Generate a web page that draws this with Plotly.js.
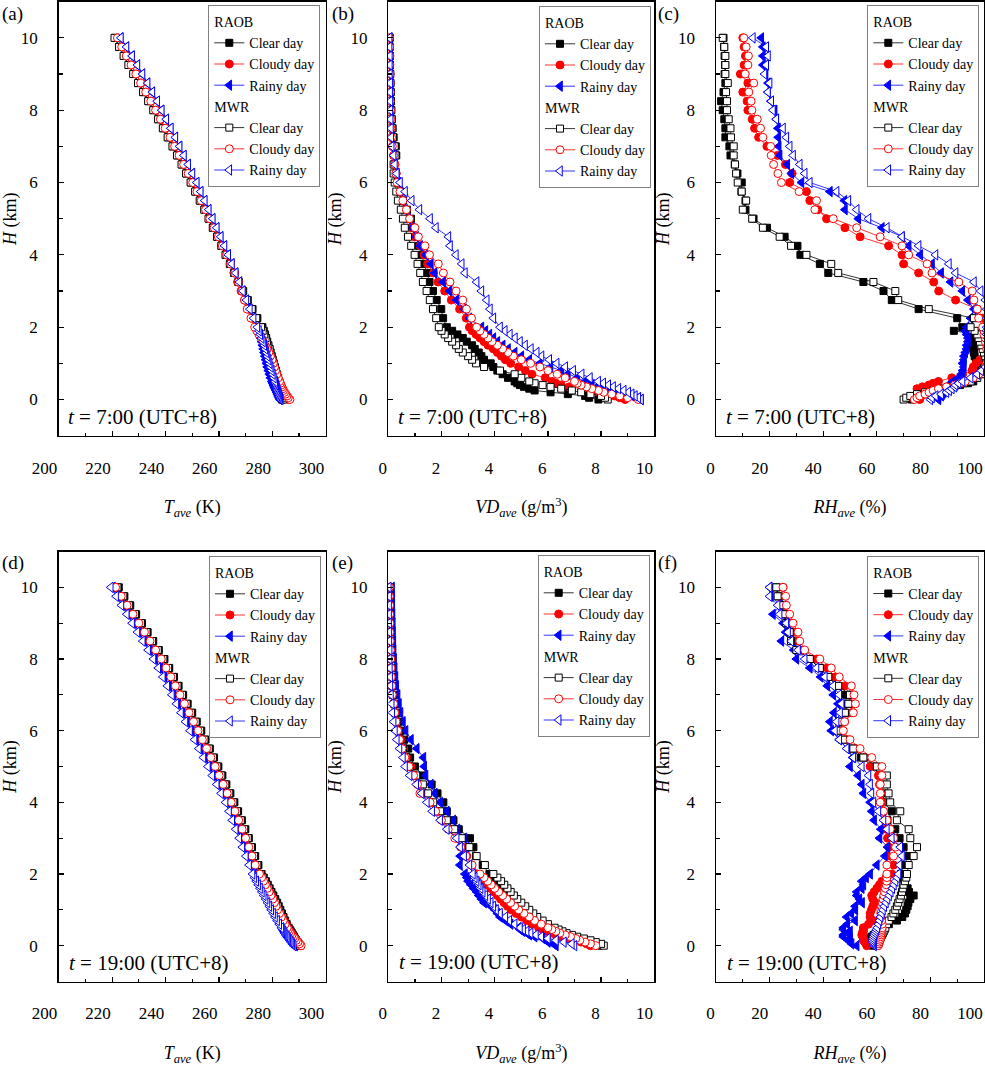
<!DOCTYPE html>
<html><head><meta charset="utf-8">
<script src="https://cdn.plot.ly/plotly-3.0.1.min.js"></script>
<style>html,body{margin:0;padding:0;background:#fff}#chart{width:985px;height:1069px}</style>
</head><body><div id="chart"></div>
<script>
// Heights (km)
const H = [0,0.05,0.1,0.15,0.2,0.25,0.3,0.35,0.4,0.45,0.5,
 0.6,0.7,0.8,0.9,1.0,1.1,1.2,1.3,1.4,1.5,1.6,1.7,1.8,1.9,2.0,
 2.25,2.5,2.75,3.0,3.25,3.5,3.75,4.0,4.25,4.5,4.75,5.0,5.25,5.5,5.75,6.0,6.25,6.5,6.75,7.0,7.25,7.5,7.75,8.0,8.25,8.5,8.75,9.0,9.25,9.5,9.75,10.0];

// (a) T, 7:00
const tA_raob_clear = [283.6,283.5,283.3,283.1,282.9,282.7,282.5,282.4,282.2,282.0,281.9,
 281.5,281.2,280.9,280.6,280.3,279.9,279.6,279.2,278.9,278.5,278.1,277.7,277.3,276.8,276.3,
 274.4,272.6,270.8,269.1,267.4,265.8,264.2,262.6,261.0,259.4,257.8,256.3,254.7,253.0,251.3,249.6,247.9,246.2,244.5,242.8,241.0,239.2,237.4,235.6,233.7,231.8,229.9,228.1,226.3,224.5,222.8,221.2];
const tA_raob_cloudy = [286.0,285.6,285.2,284.8,284.4,284.0,283.7,283.4,283.1,282.8,282.5,
 282.0,281.5,281.0,280.5,280.0,279.5,279.0,278.5,277.9,277.3,276.7,276.0,275.3,274.6,273.9,
 272.4,270.9,269.6,268.3,267.0,265.6,264.2,262.8,261.3,259.8,258.3,256.7,255.1,253.5,251.9,250.3,248.6,246.9,245.2,243.5,241.8,240.0,238.2,236.4,234.6,232.7,230.9,229.0,227.2,225.4,223.7,222.1];
const tA_raob_rainy = [282.8,282.5,282.2,281.9,281.6,281.3,281.0,280.7,280.4,280.1,279.8,
 279.3,278.9,278.5,278.1,277.8,277.5,277.2,276.9,276.6,276.3,276.0,275.6,275.2,274.8,274.3,
 272.9,271.5,270.2,268.9,267.6,266.2,264.8,263.4,262.0,260.6,259.1,257.6,256.1,254.6,253.1,251.6,250.0,248.4,246.8,245.2,243.6,241.9,240.2,238.5,236.8,235.0,233.2,231.3,229.4,227.4,225.3,223.2];
const tA_mwr_clear = [284.0,283.9,283.8,283.7,283.6,283.4,283.3,283.1,283.0,282.8,282.6,
 282.2,281.8,281.4,281.0,280.6,280.2,279.8,279.4,279.0,278.5,278.0,277.5,277.0,276.4,275.8,
 274.0,272.3,270.6,268.9,267.3,265.7,264.1,262.5,260.9,259.3,257.7,256.1,254.5,252.8,251.1,249.4,247.7,246.0,244.3,242.6,240.8,239.0,237.2,235.4,233.5,231.6,229.7,227.9,226.1,224.3,222.6,220.9];
const tA_mwr_cloudy = [286.6,286.0,285.5,285.0,284.6,284.2,283.9,283.6,283.3,283.0,282.7,
 282.2,281.7,281.2,280.8,280.4,279.9,279.3,278.7,278.0,277.3,276.6,275.8,275.0,274.2,273.4,
 272.0,270.6,269.6,268.6,267.3,265.9,264.4,262.9,261.3,259.8,258.2,256.6,255.0,253.4,251.8,250.2,248.5,246.8,245.1,243.4,241.7,239.9,238.1,236.3,234.5,232.6,230.7,228.9,227.1,225.3,223.6,222.0];
const tA_mwr_rainy = [283.2,283.0,282.7,282.5,282.3,282.1,281.9,281.7,281.5,281.3,281.1,
 280.6,280.2,279.8,279.4,279.0,278.6,278.2,277.8,277.4,277.0,276.5,276.0,275.5,275.0,274.4,
 273.0,271.6,270.3,269.0,267.7,266.3,264.9,263.5,262.1,260.7,259.2,257.7,256.2,254.7,253.2,251.7,250.1,248.5,246.9,245.3,243.7,242.0,240.3,238.6,236.9,235.1,233.3,231.4,229.5,227.5,225.4,223.3];

// (b) VD, 7:00
const vB_raob_clear = [7.9,7.55,7.4,6.75,6.1,5.5,5.3,5.1,4.95,4.85,4.75,
 4.5,4.3,4.1,3.95,3.85,3.6,3.5,3.4,3.25,3.15,2.95,2.8,2.6,2.4,2.2,
 2.06,1.99,1.82,1.68,1.55,1.45,1.35,1.25,1.15,1.05,0.95,0.85,0.7,0.55,0.45,0.35,0.28,0.22,0.3,0.28,0.2,0.16,0.13,0.11,0.1,0.09,0.08,0.07,0.06,0.06,0.05,0.05];
const vB_raob_cloudy = [8.9,8.7,8.5,8.2,7.9,7.6,7.3,6.8,6.5,6.3,6.15,
 5.9,5.4,5.15,4.9,4.6,4.4,4.25,4.1,3.95,3.75,3.6,3.45,3.3,3.15,3.05,
 2.93,2.68,2.37,2.12,1.87,1.7,1.48,1.35,1.2,1.0,0.85,0.72,0.6,0.5,0.42,0.35,0.3,0.25,0.2,0.16,0.13,0.11,0.1,0.09,0.08,0.08,0.07,0.07,0.06,0.06,0.05,0.05];
const vB_raob_rainy = [9.5,9.4,9.15,9.0,8.6,8.3,8.05,7.85,7.65,7.5,7.4,
 7.1,6.75,6.5,6.1,5.7,5.3,5.0,4.75,4.5,4.3,4.1,3.95,3.8,3.65,3.5,
 3.05,2.85,2.56,2.3,2.06,1.74,1.6,1.4,1.2,1.05,0.9,0.75,0.63,0.55,0.45,0.38,0.32,0.26,0.22,0.18,0.15,0.13,0.12,0.11,0.1,0.09,0.09,0.08,0.08,0.07,0.07,0.06];
const vB_mwr_clear = [8.25,8.15,8.0,7.6,7.25,6.9,6.5,6.1,5.8,5.5,5.3,
 5.0,4.75,4.2,3.6,3.3,3.15,3.0,2.8,2.65,2.55,2.4,2.25,2.12,2.0,1.9,
 1.8,1.68,1.56,1.44,1.3,1.2,1.1,0.99,0.86,0.74,0.62,0.55,0.47,0.36,0.3,0.24,0.2,0.2,0.27,0.24,0.18,0.15,0.13,0.11,0.1,0.09,0.08,0.07,0.06,0.06,0.05,0.05];
const vB_mwr_cloudy = [9.4,9.0,8.7,8.4,8.1,7.9,7.65,7.45,7.25,7.1,7.0,
 6.65,6.35,6.0,5.7,5.35,5.0,4.7,4.5,4.3,4.1,3.9,3.75,3.6,3.45,3.32,
 3.13,2.94,2.8,2.55,2.32,2.07,1.88,1.55,1.38,1.13,1.0,0.8,0.68,0.55,0.44,0.33,0.28,0.24,0.2,0.15,0.12,0.1,0.09,0.08,0.07,0.07,0.06,0.06,0.05,0.05,0.05,0.04];
const vB_mwr_rainy = [9.5,9.4,9.27,9.15,9.02,8.85,8.65,8.45,8.27,8.08,7.89,
 7.58,7.27,6.95,6.65,6.33,6.05,5.76,5.58,5.36,5.14,4.95,4.76,4.57,4.38,4.2,
 3.95,3.82,3.7,3.5,3.32,2.88,2.76,2.54,2.32,2.26,1.79,1.57,1.17,0.88,0.63,0.44,0.32,0.25,0.2,0.13,0.11,0.1,0.09,0.08,0.08,0.07,0.07,0.06,0.06,0.06,0.05,0.05];

// (c) RH, 7:00
const rC_raob_clear = [73,74,75.5,77,79,82,85,88,91,94,96,
 97,98,99,98,97.5,97,96.5,96.25,96,96,95.6,96,97,88.75,91.9,
 90,75.6,65.6,62.5,55,41.9,38.75,31.5,30.4,25.6,19,14,11,11,9.5,9.6,8,7,5.4,5,3.5,3.5,3.1,2.5,1.9,2.8,3.5,3.2,3.4,3.2,3.0,2.8];
const rC_raob_cloudy = [76,75.5,76.5,78,77,76,75,77,79.4,81,83,
 88,92,95.5,96,97,98.5,100,100.5,99.5,99,98.5,98,98.5,99.5,100,
 99.5,97.5,89.4,83.1,81.25,75.6,70,69.4,64.4,53.75,48.1,41.25,38,35,33.75,27.5,28.4,25.9,22.9,19,15.9,14.4,13.5,11.9,11.6,10,11.9,9.1,10.5,11,10.5,10];
const rC_raob_rainy = [83,83,84,84.5,85,85.5,86,86.5,86.9,87.5,88.5,
 90.5,91.5,92,92.5,92,92.5,92.5,93,93.5,93.5,94,94,93.5,93,93.5,
 95,96.25,94,91.9,87.5,84,80.6,76.25,71.9,69.4,61.9,53.1,48.1,47.9,42.5,31.9,28.1,26.6,23.75,23.4,23.2,23.1,22.5,21.9,20.5,19.4,19.4,18.5,17.5,17.5,17.5,16.9];
const rC_mwr_clear = [70,71,72.5,75,78,81,84,87,90,92.5,95,
 97.5,99,100,100.5,101,101,100.5,100,99.5,99,98.5,98,97.5,96.5,95,
 96.25,79.4,68,66.9,58.75,45.6,43,33.75,28,23.75,17.5,13.5,10,11.25,9.6,8.1,7.5,7.1,6.6,6.6,5.6,5.4,4.75,4.1,4.1,3.75,4.4,3.5,3.5,3.5,3.1,2.5];
const rC_mwr_cloudy = [74,75,76,78,79.5,81,83,86,89,91,93,
 96,98,99.5,100.5,101,101.5,101.5,101.5,101,101,100.5,100.5,100,100,99.5,
 98,97.5,96.25,95.6,90.6,80.6,78.75,71.9,69.4,61.25,52.5,43.75,36.9,37.5,31,24.4,23.1,21.5,20.6,20.4,17.5,16.6,15.4,13.4,13.1,12.25,14.1,10.9,11.9,12.1,11.25,10.4];
const rC_mwr_rainy = [80,80.6,82,84,86,87,88,89,89.4,90.5,92,
 95,97.5,99,100.5,101.5,102,102,102,102,101.5,101.5,101.5,101,101,101,
 101,101,100.5,98.75,96.25,89.4,86.9,81.9,75.6,69.4,63.75,56.9,52.5,49.4,45,35,33.1,31.25,28.75,27.5,26.25,25,22.5,21.25,20.6,19.4,20,18.1,18.75,19.4,18.75,13.75];

// (d) T, 19:00
const tD_raob_clear = [290.2,289.8,289.3,288.9,288.5,288.1,287.7,287.3,286.9,286.5,286.1,
 285.4,284.8,284.2,283.6,283.0,282.4,281.8,281.1,280.4,279.7,279.0,278.3,277.6,276.8,276.0,
 274.8,273.6,272.4,271.2,269.9,268.6,267.2,265.8,264.3,262.8,261.3,259.8,258.2,256.6,255.0,253.4,251.7,250.0,248.3,246.6,244.9,243.2,241.4,239.6,237.5,235.4,233.3,231.2,229.0,226.8,224.6,222.5];
const tD_raob_cloudy = [290.5,290.0,289.5,289.0,288.5,288.0,287.6,287.2,286.8,286.4,286.0,
 285.3,284.6,283.9,283.2,282.5,281.8,281.1,280.5,279.9,279.2,278.5,277.8,277.1,276.3,275.5,
 273.9,272.7,271.5,270.3,269.0,267.7,266.3,264.9,263.4,261.9,260.4,258.9,257.3,255.7,254.1,252.5,250.8,249.1,247.4,245.7,244.0,242.3,240.5,238.7,236.6,234.5,232.4,230.3,228.1,225.9,223.7,221.6];
const tD_raob_rainy = [288.6,288.1,287.6,287.1,286.6,286.1,285.7,285.3,284.9,284.5,284.1,
 283.3,282.5,281.8,281.1,280.4,279.7,279.0,278.3,277.6,276.9,276.2,275.5,274.8,274.1,273.4,
 272.0,270.8,269.5,268.3,267.0,265.7,264.4,263.1,261.5,259.9,258.2,256.6,254.9,253.2,251.6,249.9,248.2,246.5,244.8,243.1,241.4,239.7,238.0,236.2,234.2,232.2,230.2,228.2,226.2,224.2,222.2,220.3];
const tD_mwr_clear = [290.4,289.9,289.4,288.9,288.4,287.9,287.4,286.9,286.5,286.1,285.7,
 285.0,284.4,283.8,283.2,282.6,282.0,281.4,280.7,280.0,279.3,278.6,277.9,277.2,276.4,275.6,
 274.4,273.2,272.0,270.8,269.5,268.2,266.8,265.4,263.9,262.4,260.9,259.4,257.8,256.2,254.6,253.0,251.3,249.6,247.9,246.2,244.5,242.8,241.0,239.2,237.1,235.0,232.9,230.8,228.6,226.4,224.2,222.0];
const tD_mwr_cloudy = [290.8,290.2,289.6,289.0,288.4,287.9,287.4,286.9,286.4,286.0,285.6,
 284.8,284.1,283.4,282.7,282.0,281.4,280.8,280.2,279.5,278.8,278.1,277.4,276.7,276.0,275.2,
 273.6,272.4,271.2,270.0,268.7,267.4,266.0,264.6,263.1,261.6,260.1,258.6,257.0,255.4,253.8,252.2,250.5,248.8,247.1,245.4,243.7,242.0,240.2,238.4,236.3,234.2,232.1,230.0,227.8,225.6,223.4,221.3];
const tD_mwr_rainy = [288.0,287.5,287.0,286.5,286.0,285.5,285.0,284.6,284.2,283.8,283.4,
 282.6,281.8,281.0,280.3,279.6,278.9,278.2,277.5,276.8,276.1,275.4,274.7,274.0,273.3,272.6,
 271.3,270.1,268.8,267.6,266.3,265.0,263.8,262.5,260.8,259.2,257.5,255.9,254.2,252.5,250.9,249.2,247.5,245.8,244.1,242.4,240.7,239.0,237.3,235.5,233.5,231.5,229.5,227.5,225.5,223.5,221.5,219.5];

// (e) VD, 19:00
const vE_raob_clear = [7.9,7.8,7.6,7.35,7.1,6.85,6.6,6.4,6.25,6.1,5.95,
 5.7,5.5,5.3,5.15,5.0,4.85,4.7,4.55,4.42,4.3,4.2,4.1,4.0,3.9,3.8,
 3.55,3.3,3.2,3.07,2.65,2.45,2.2,2.07,1.85,1.63,1.3,1.0,0.82,0.75,0.6,0.48,0.4,0.34,0.28,0.23,0.2,0.17,0.15,0.13,0.12,0.11,0.1,0.1,0.09,0.09,0.08,0.08];
const vE_raob_cloudy = [7.6,7.45,7.25,7.0,6.75,6.5,6.3,6.1,5.95,5.8,5.65,
 5.4,5.2,5.0,4.8,4.62,4.48,4.35,4.22,4.1,3.97,3.85,3.72,3.6,3.45,3.35,
 3.12,2.95,2.78,2.55,2.3,2.06,1.85,1.6,1.35,1.15,1.0,0.85,0.7,0.58,0.48,0.4,0.33,0.27,0.22,0.18,0.15,0.13,0.11,0.1,0.09,0.08,0.07,0.07,0.06,0.06,0.05,0.05];
const vE_raob_rainy = [6.3,6.2,6.0,5.95,5.8,5.5,5.3,5.2,5.05,4.95,4.9,
 4.6,4.4,4.2,4.1,4.0,3.85,3.6,3.5,3.4,3.32,3.2,3.1,3.0,2.95,2.88,
 2.69,2.7,2.95,2.85,2.6,2.44,2.2,1.95,1.75,1.6,1.4,1.35,1.32,1.07,0.85,0.65,0.55,0.46,0.4,0.35,0.3,0.27,0.24,0.22,0.2,0.19,0.18,0.17,0.16,0.15,0.15,0.14];
const vE_mwr_clear = [8.1,8.0,7.8,7.6,7.35,7.1,6.9,6.7,6.55,6.4,6.25,
 6.0,5.8,5.6,5.45,5.3,5.15,5.0,4.85,4.72,4.6,4.48,4.36,4.24,4.1,3.95,
 3.63,3.32,3.05,2.76,2.48,2.2,1.95,1.69,1.5,1.3,1.05,0.81,0.68,0.55,0.45,0.38,0.32,0.26,0.22,0.16,0.14,0.12,0.11,0.09,0.08,0.07,0.06,0.06,0.05,0.05,0.04,0.04];
const vE_mwr_cloudy = [7.8,7.6,7.4,7.2,7.05,6.85,6.65,6.45,6.3,6.15,6.0,
 5.75,5.5,5.3,5.1,4.9,4.75,4.6,4.45,4.3,4.15,4.0,3.87,3.74,3.6,3.45,
 3.15,2.92,2.72,2.5,2.25,2.0,1.78,1.57,1.19,1.1,0.95,0.78,0.62,0.52,0.42,0.35,0.29,0.24,0.2,0.15,0.13,0.11,0.1,0.09,0.08,0.07,0.06,0.06,0.05,0.05,0.04,0.04];
const vE_mwr_rainy = [7.0,6.9,6.6,6.3,6.0,5.75,5.55,5.35,5.2,5.07,4.95,
 4.75,4.55,4.4,4.2,4.05,3.95,3.85,3.75,3.65,3.55,3.47,3.4,3.32,3.25,3.18,
 3.05,2.85,2.7,2.57,2.2,1.95,1.65,1.45,1.25,1.05,0.8,0.63,0.55,0.42,0.32,0.25,0.2,0.15,0.13,0.1,0.08,0.07,0.06,0.05,0.05,0.04,0.04,0.03,0.03,0.03,0.03,0.02];

// (f) RH, 19:00
const rF_raob_clear = [58.5,58,57.5,57.5,57.5,58,58.8,59.6,60.6,61.5,62.5,
 64.5,67.5,69.5,70.5,71,71.5,71.8,72.5,73.75,72,71.5,70.5,70,69.5,69,
 70,71.9,70,68.5,66.9,64,65.6,62.5,62.5,61.5,61,59,54,50.5,47,45.6,46.5,48,48.5,48.5,45,42,38.5,35,30.5,28.5,27.5,26.5,25.5,24.5,23.5,22.5];
const rF_raob_cloudy = [56.25,56,55.5,55,55,54.8,54.4,54.6,55,55,55,
 56.9,58.75,57.5,57.5,58,58.5,59.4,58.5,58.1,59,60,61,61.9,63.5,65.6,
 66.25,64,64.5,64,63.5,63,62.5,62,61.5,61,60.6,57.5,55.5,52,49,47,48,50.5,50.5,50,48,44.5,41.5,37.5,32.5,30.5,29.5,28,26.6,26,23.5,25];
const rF_raob_rainy = [52.5,50.6,50,50,50,47.5,47.5,49,50,47.5,47.5,
 49,51.9,48.75,50.5,52,51.9,54.5,53.5,52.5,52.5,54.4,55,54.4,56,57.5,
 60,63,64,61,61.5,59,58.1,57.5,55,54.4,53,50,51,49,46,43,42.5,44,45.5,43.75,41.5,39,35,30,29,24.4,26,25,21.25,24,20.5,20];
const rF_mwr_clear = [60,60.2,60.4,60.8,61.3,61.6,61.9,62.3,62.6,62.9,63.2,
 63.8,64.5,65.5,66.2,66.9,67.5,68,68.5,69,69.4,69.7,70,70.5,71,71.25,
 71.9,73.75,75,72.5,71.9,67.5,68.75,65,64.4,63.75,63.75,60,55,51.25,47.5,45.6,46,48.1,49.4,50,45.6,41.9,38.75,35,30,28,27.5,26.25,25.6,24.4,23,22.5];
const rF_mwr_cloudy = [60.6,60.8,61,61.2,61.4,61.5,61.6,61.7,61.8,61.9,62,
 62,61.8,61.5,61.5,61.5,61.8,62,62.3,62.6,62.9,63.2,63.5,63.7,63.75,63.75,
 63.75,66.25,67,66.3,65,63.8,62.5,61.25,61.3,61.3,61.9,61.9,58.1,53.75,50,47.5,48,51.25,52,51.5,50.5,46,43,38.75,33.1,31.25,30.6,28.75,27.5,26.25,26,25];
const rF_mwr_rainy = [59,58.75,58.5,58.5,58.6,58.8,59,59.3,59.6,59.9,60.2,
 60.6,61,61.4,61.9,62.3,62.8,63.4,64,64.6,65.2,65.8,66.4,67,67.6,68.1,
 68.5,69.4,68.75,65.6,63.75,62.5,60.6,58.75,58,57.5,56.9,54.4,51.25,48.75,46,44.4,45,46.3,46.9,46,43.75,40.6,37.5,33.1,30.6,28.1,26.9,26.25,23.75,23,20,20];

// Labels
const seriesNames = ['Clear day','Cloudy day','Rainy day'];
const groupNames = ['RAOB','MWR'];
const panelLetters = ['(a)','(b)','(c)','(d)','(e)','(f)'];
const timeLabels = ['<i>t</i> = 7:00 (UTC+8)','<i>t</i> = 19:00 (UTC+8)'];
const yTitle = '<i>H</i> (km)';
const xTitles = ['<i>T</i><sub><i>ave</i></sub> (K)','<i>VD</i><sub><i>ave</i></sub> (g/m<sup>3</sup>)','<i>RH</i><sub><i>ave</i></sub> (%)'];
const xRanges = [[200,300],[0,10],[0,100]];
const xDticks = [20,2,20];
const xMinor = [10,1,10];

const panelData = [
  [tA_raob_clear,tA_raob_cloudy,tA_raob_rainy,tA_mwr_clear,tA_mwr_cloudy,tA_mwr_rainy],
  [vB_raob_clear,vB_raob_cloudy,vB_raob_rainy,vB_mwr_clear,vB_mwr_cloudy,vB_mwr_rainy],
  [rC_raob_clear,rC_raob_cloudy,rC_raob_rainy,rC_mwr_clear,rC_mwr_cloudy,rC_mwr_rainy],
  [tD_raob_clear,tD_raob_cloudy,tD_raob_rainy,tD_mwr_clear,tD_mwr_cloudy,tD_mwr_rainy],
  [vE_raob_clear,vE_raob_cloudy,vE_raob_rainy,vE_mwr_clear,vE_mwr_cloudy,vE_mwr_rainy],
  [rF_raob_clear,rF_raob_cloudy,rF_raob_rainy,rF_mwr_clear,rF_mwr_cloudy,rF_mwr_rainy]
];

// Styles
const FONT = 'Liberation Serif, "Times New Roman", Times, serif';
const W = 985, HT = 1069;
const colors = ['#000000','#ff0000','#0000ff'];
const syms = ['square','circle','triangle-left'];
const symSizes = [7,8,9];
const colsPx = [[58.7,325.7],[388.3,654.3],[716,984]];
const rowsPx = [[1.7,435.7],[551.5,981.5]];
const legendPos = [[208.3,5],[539,6],[867.3,5],[209,556],[537.7,555],[867.3,555.7]];
const letterPos = [[0,14],[330,14],[656,14],[0,563],[330,563],[656,563]];
const timePos = [[66,417],[396,417],[724,417],[67,963],[397,962],[725,963]];

const fx = v => v / W, fy = v => 1 - v / HT;

const traces = [];
const layout = {
  width: W, height: HT,
  margin: {l:0, r:0, t:0, b:0},
  paper_bgcolor: '#ffffff', plot_bgcolor: '#ffffff',
  font: {family: FONT, color: '#000000', size: 17},
  showlegend: true,
  annotations: []
};

for (let p = 0; p < 6; p++) {
  const col = p % 3, row = Math.floor(p / 3);
  const sfx = p === 0 ? '' : String(p + 1);
  const xa = 'x' + sfx, ya = 'y' + sfx, lg = 'legend' + sfx;
  for (let s = 0; s < 6; s++) {
    const g = s < 3 ? 0 : 1, k = s % 3;
    traces.push({
      type: 'scatter', mode: 'lines+markers',
      x: panelData[p][s], y: H,
      xaxis: xa, yaxis: ya, legend: lg,
      name: seriesNames[k],
      legendgroup: groupNames[g] + p,
      legendgrouptitle: {text: groupNames[g], font: {family: FONT, size: 14, color: '#000'}},
      line: {color: colors[k], width: 0.8},
      marker: {
        symbol: syms[k],
        size: symSizes[k],
        color: g === 0 ? colors[k] : '#ffffff',
        line: {color: colors[k], width: 1}
      },
      cliponaxis: true,
      hoverinfo: 'skip'
    });
  }
  const xd = colsPx[col], yd = rowsPx[row];
  layout['xaxis' + sfx] = {
    domain: [fx(xd[0]), fx(xd[1])], anchor: ya,
    range: xRanges[col], tick0: 0, dtick: xDticks[col],
    ticks: 'inside', ticklen: 5, tickwidth: 1.2, tickcolor: '#000',
    minor: {dtick: xMinor[col], ticks: 'inside', ticklen: 3, tickwidth: 1.2, tickcolor: '#000'},
    showline: true, linewidth: 1.5, linecolor: '#000', mirror: true,
    showgrid: false, zeroline: false, automargin: false,
    ticklabelposition: 'outside left', ticklabelstandoff: 16,
    tickfont: {family: FONT, size: 17, color: '#000'},
    title: {text: xTitles[col], standoff: 24, font: {family: FONT, size: 18, color: '#000'}}
  };
  layout['yaxis' + sfx] = {
    domain: [fy(yd[1]), fy(yd[0])], anchor: xa,
    range: [-1, 11], tick0: 0, dtick: 2,
    ticks: 'inside', ticklen: 5, tickwidth: 1.2, tickcolor: '#000',
    minor: {dtick: 1, ticks: 'inside', ticklen: 4, tickwidth: 1.2, tickcolor: '#000'},
    showline: true, linewidth: 1.5, linecolor: '#000', mirror: true,
    showgrid: false, zeroline: false, automargin: false,
    ticklabelstandoff: 16,
    tickfont: {family: FONT, size: 17, color: '#000'},
    title: {text: yTitle, standoff: 4, font: {family: FONT, size: 18, color: '#000'}}
  };
  layout[lg] = {
    x: fx(legendPos[p][0]), y: fy(legendPos[p][1]), xanchor: 'left', yanchor: 'top',
    bgcolor: '#ffffff', bordercolor: '#808080', borderwidth: 1,
    font: {family: FONT, size: 14, color: '#000'},
    grouptitlefont: {family: FONT, size: 14, color: '#000'},
    tracegroupgap: 0, itemwidth: 30, traceorder: 'grouped'
  };
  layout.annotations.push({
    xref: 'paper', yref: 'paper', x: fx(letterPos[p][0]), y: fy(letterPos[p][1]),
    xanchor: 'left', yanchor: 'middle', showarrow: false, text: panelLetters[p],
    font: {family: FONT, size: 19, color: '#000'}
  });
  layout.annotations.push({
    xref: 'paper', yref: 'paper', x: fx(timePos[p][0]), y: fy(timePos[p][1]),
    xanchor: 'left', yanchor: 'middle', showarrow: false, text: timeLabels[row],
    font: {family: FONT, size: 21, color: '#000'}
  });
}

Plotly.newPlot('chart', traces, layout, {displayModeBar: false, staticPlot: true});
</script>
</body></html>
